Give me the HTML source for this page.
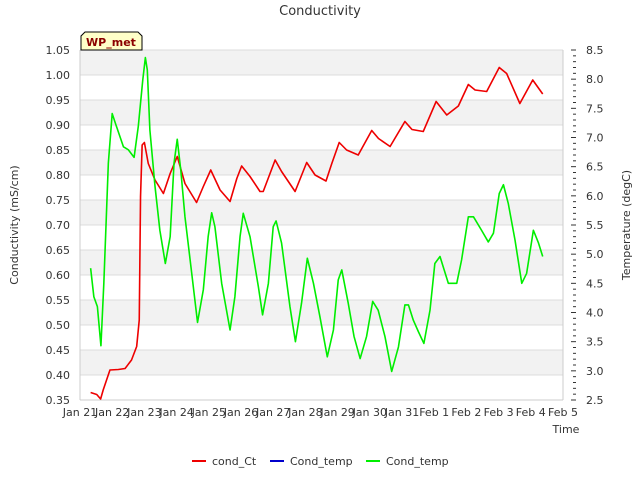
<!DOCTYPE html>
<html><head><meta charset="utf-8"><style>
body{margin:0;background:#fff;font-family:"Liberation Sans","DejaVu Sans",sans-serif;}
svg text{font-family:"DejaVu Sans","Liberation Sans",sans-serif;}
</style></head><body>
<svg id="chart" width="640" height="480" viewBox="0 0 640 480">
<text x="320" y="15" text-anchor="middle" font-size="13" fill="#333">Conductivity</text>
<g id="grid"></g>
<g id="axes"></g>
<g id="series"></g>
<g>
<path d="M81,50 L81,36 L85,32 L138,32 L142,36 L142,50 Z" fill="#ffffc8" stroke="#000" stroke-width="1"/>
<text x="111" y="46" text-anchor="middle" font-size="11" font-weight="bold" fill="#8b0000">WP_met</text>
</g>
<text transform="translate(18,225) rotate(-90)" text-anchor="middle" font-size="11" fill="#333">Conductivity (mS/cm)</text>
<text transform="translate(630,225) rotate(-90)" text-anchor="middle" font-size="11" fill="#333">Temperature (degC)</text>
<text x="566" y="433" text-anchor="middle" font-size="11" fill="#333">Time</text>
<g>
<g><line x1="192" y1="461" x2="206" y2="461" stroke="#e00" stroke-width="2"/><text x="212" y="465" font-size="11" fill="#333">cond_Ct</text></g>
<g><line x1="270" y1="461" x2="284" y2="461" stroke="#00c" stroke-width="2"/><text x="290" y="465" font-size="11" fill="#333">Cond_temp</text></g>
<g><line x1="366" y1="461" x2="380" y2="461" stroke="#0e0" stroke-width="2"/><text x="386" y="465" font-size="11" fill="#333">Cond_temp</text></g>
</g>
</svg>
<script>
const xLabels=["Jan 21","Jan 22","Jan 23","Jan 24","Jan 25","Jan 26","Jan 27","Jan 28","Jan 29","Jan 30","Jan 31","Feb 1","Feb 2","Feb 3","Feb 4","Feb 5"];
const leftTicks=[0.35,0.40,0.45,0.50,0.55,0.60,0.65,0.70,0.75,0.80,0.85,0.90,0.95,1.00,1.05];
const rightTicks=[2.5,3.0,3.5,4.0,4.5,5.0,5.5,6.0,6.5,7.0,7.5,8.0,8.5];
const condDays=[0.33,0.52,0.64,0.72,0.93,1.19,1.40,1.60,1.76,1.84,1.88,1.93,2.0,2.12,2.33,2.59,2.80,3.02,3.26,3.62,3.83,4.06,4.35,4.66,4.87,5.02,5.28,5.59,5.69,6.06,6.26,6.68,7.04,7.30,7.64,7.82,8.05,8.28,8.64,9.06,9.27,9.63,10.09,10.31,10.66,11.06,11.39,11.75,12.06,12.27,12.63,13.02,13.25,13.66,14.06,14.37];
const condVals=[0.365,0.361,0.352,0.37,0.41,0.411,0.413,0.43,0.457,0.51,0.757,0.86,0.865,0.823,0.79,0.763,0.803,0.837,0.783,0.745,0.777,0.81,0.77,0.747,0.793,0.818,0.797,0.767,0.767,0.83,0.807,0.767,0.825,0.80,0.788,0.823,0.865,0.85,0.84,0.889,0.873,0.857,0.907,0.891,0.887,0.947,0.92,0.938,0.981,0.97,0.967,1.015,1.003,0.943,0.99,0.962];
const tempDays=[0.33,0.43,0.54,0.65,0.74,0.88,1.0,1.12,1.35,1.50,1.68,1.81,1.95,2.03,2.09,2.17,2.33,2.48,2.65,2.80,2.92,3.02,3.13,3.26,3.47,3.65,3.83,3.98,4.09,4.19,4.40,4.66,4.81,4.97,5.07,5.28,5.54,5.67,5.85,6.0,6.09,6.26,6.52,6.69,6.88,7.06,7.25,7.45,7.68,7.87,8.02,8.13,8.33,8.51,8.70,8.90,9.09,9.26,9.47,9.68,9.89,10.09,10.20,10.35,10.51,10.68,10.87,11.02,11.18,11.44,11.70,11.85,12.06,12.22,12.47,12.68,12.84,13.02,13.15,13.30,13.51,13.72,13.87,14.08,14.24,14.37];
const tempVals=[4.76,4.27,4.1,3.43,4.5,6.56,7.41,7.21,6.84,6.79,6.66,7.19,7.99,8.37,8.16,7.13,6.16,5.41,4.84,5.30,6.56,6.97,6.44,5.64,4.67,3.83,4.39,5.30,5.71,5.47,4.50,3.70,4.27,5.30,5.70,5.30,4.44,3.96,4.50,5.47,5.57,5.19,4.10,3.50,4.16,4.93,4.5,3.93,3.24,3.70,4.56,4.73,4.16,3.59,3.21,3.59,4.19,4.04,3.59,2.99,3.41,4.13,4.13,3.87,3.67,3.47,4.04,4.84,4.96,4.5,4.5,4.90,5.64,5.64,5.41,5.21,5.36,6.04,6.19,5.87,5.24,4.5,4.67,5.41,5.19,4.96];

const L=80,R=563,T=50,B=400,NS="http://www.w3.org/2000/svg";
const xS=d=>L+d*(R-L)/15;
const yL=v=>B-(v-0.35)*(B-T)/0.7;
const yR=v=>B-(v-2.5)*(B-T)/6;
function mk(tag,attrs,parent){const e=document.createElementNS(NS,tag);for(const k in attrs)e.setAttribute(k,attrs[k]);parent.appendChild(e);return e;}
const grid=document.getElementById('grid'),axes=document.getElementById('axes'),series=document.getElementById('series');
for(let i=0;i<leftTicks.length-1;i++){
  if((leftTicks.length-2-i)%2===0){const r=mk('rect',{x:L,y:yL(leftTicks[i+1]),width:R-L,height:yL(leftTicks[i])-yL(leftTicks[i+1]),fill:'#f2f2f2'},grid);
  
  }
}
leftTicks.forEach(v=>{
  const g=mk('line',{x1:L,x2:R,y1:yL(v),y2:yL(v),stroke:'#dcdcdc','stroke-width':1},grid);
  
  
  const t=mk('text',{x:L-10,y:yL(v)+4,'text-anchor':'end','font-size':11,fill:'#333'},axes);t.textContent=v.toFixed(2);
  
  
});
mk('line',{x1:L,x2:L,y1:T,y2:B,stroke:'#ccc'},axes);
mk('line',{x1:L,x2:R,y1:B,y2:B,stroke:'#ccc'},axes);
mk('line',{x1:R,x2:R,y1:T,y2:B,stroke:'#ccc'},axes);
for(let v=2.5;v<=8.51;v+=0.1){const y=yR(v);const major=Math.abs(v*2-Math.round(v*2))<1e-6;
  mk('line',{x1:R+(major?8:10),x2:R+13,y1:y,y2:y,stroke:'#333'},axes);}
rightTicks.forEach(v=>{
  const t=mk('text',{x:R+23,y:yR(v)+4,'font-size':11,fill:'#333'},axes);t.textContent=v.toFixed(1);
  
  
});
xLabels.forEach((s,i)=>{
  const t=mk('text',{x:xS(i),y:B+16,'text-anchor':'middle','font-size':11,fill:'#333'},axes);t.textContent=s;
  
  
});
const p1=mk('polyline',{points:condDays.map((d,i)=>xS(d)+','+yL(condVals[i])).join(' '),fill:'none',stroke:'#e00','stroke-width':1.6,'stroke-linejoin':'round'},series);


const p2=mk('polyline',{points:tempDays.map((d,i)=>xS(d)+','+yR(tempVals[i])).join(' '),fill:'none',stroke:'#0e0','stroke-width':1.6,'stroke-linejoin':'round'},series);


</script>
</body></html>
